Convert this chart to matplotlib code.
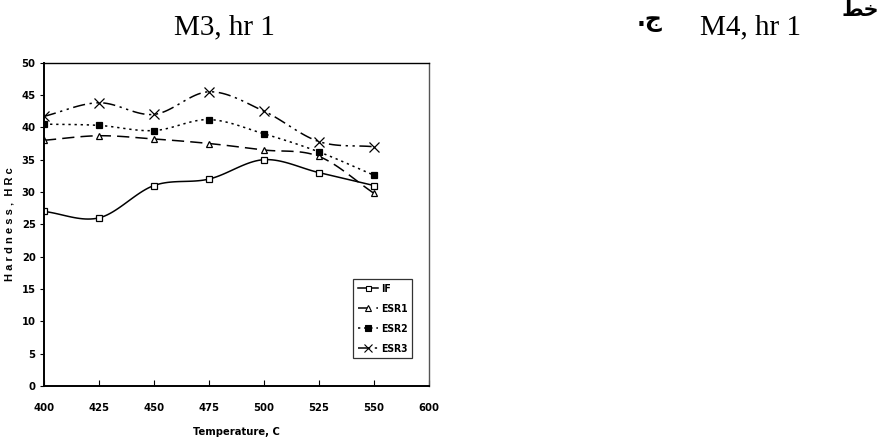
import numpy as np
import matplotlib
matplotlib.use("Agg")
import matplotlib.pyplot as plt

temps = [400, 425, 450, 475, 500, 525, 550]
IF = [27.0, 26.0, 31.0, 32.0, 35.0, 33.0, 31.0]
ESR1 = [38.0, 38.7, 38.2, 37.5, 36.5, 35.5, 29.8]
ESR2 = [40.5, 40.3, 39.5, 41.2, 39.0, 36.2, 32.6]
ESR3 = [41.7, 43.8, 42.0, 45.5, 42.5, 37.8, 37.0]
series_names = ["IF", "ESR1", "ESR2", "ESR3"]
xtick_labels = ["400", "425", "450", "475", "500", "525", "550", "600"]
yticks = [0, 5, 10, 15, 20, 25, 30, 35, 40, 45, 50]

FONT = dict(family="DejaVu Sans", stretch="condensed", weight="bold")


def smooth(x, y, n=20):
    x = np.asarray(x, float); y = np.asarray(y, float)
    P = np.column_stack([x, y])
    P = np.vstack([P[0] - (P[1] - P[0]), P, P[-1] + (P[-1] - P[-2])])
    out = []
    t = np.linspace(0, 1, n, endpoint=False)[:, None]
    for i in range(1, len(P) - 2):
        p0, p1, p2, p3 = P[i - 1], P[i], P[i + 1], P[i + 2]
        c = 0.5 * ((2 * p1) + (-p0 + p2) * t + (2 * p0 - 5 * p1 + 4 * p2 - p3) * t ** 2
                   + (-p0 + 3 * p1 - 3 * p2 + p3) * t ** 3)
        out.append(c)
    out.append(P[-2][None, :])
    c = np.vstack(out)
    return c[:, 0], c[:, 1]


fig = plt.figure(figsize=(8.83, 4.43), dpi=100)
ax = fig.add_axes([0.0498, 0.1287, 0.4360, 0.7298])

# category axis: positions are indices of the tick labels
xpos = [xtick_labels.index(str(t)) for t in temps]

styles = [
    dict(ls="-", marker="s", mfc="white", ms=4.5),
    dict(ls=(0, (8, 4)), marker="^", mfc="white", ms=5),
    dict(ls=(0, (1.5, 2.5)), marker="s", mfc="black", ms=5),
    dict(ls=(0, (8, 3, 1.5, 3, 1.5, 3)), marker="x", mfc="black", ms=6.5),
]
for name, ys, st in zip(series_names, [IF, ESR1, ESR2, ESR3], styles):
    sx, sy = smooth(xpos, ys)
    ax.plot(sx, sy, color="black", lw=1.1, ls=st["ls"])
    ax.plot(xpos, ys, ls="none", marker=st["marker"], mfc=st["mfc"], mec="black",
            ms=st["ms"], mew=0.9, color="black")
    ax.plot([], [], color="black", lw=1.1, ls=st["ls"], marker=st["marker"],
            mfc=st["mfc"], mec="black", ms=st["ms"] * 0.8, mew=0.8, label=name)

ax.set_xlim(0, len(xtick_labels) - 1)
ax.set_ylim(0, 50)
ax.set_xticks(range(len(xtick_labels)))
ax.set_xticklabels(xtick_labels)
ax.set_yticks(yticks)
ax.tick_params(axis="x", direction="in", length=4, pad=12)
ax.tick_params(axis="y", direction="out", length=3, pad=3)
for lab in ax.get_xticklabels() + ax.get_yticklabels():
    lab.set_fontfamily(FONT["family"])
    lab.set_fontstretch(FONT["stretch"])
    lab.set_fontweight("bold")
    lab.set_fontsize(8)
for s in ["left", "bottom"]:
    ax.spines[s].set_linewidth(1.4)
for s in ["top", "right"]:
    ax.spines[s].set_linewidth(1.0)
ax.spines["right"].set_color("#555555")

ax.set_xlabel("Temperature, C", fontsize=8, labelpad=10, **FONT)
ax.set_ylabel("H a r d n e s s ,  H R c", fontfamily="Liberation Sans", fontweight="bold",
              fontsize=8, labelpad=5)

leg = ax.legend(loc="upper left", bbox_to_anchor=(0.803, 0.33), frameon=True, fancybox=False,
                edgecolor="black", handlelength=1.9, handletextpad=0.3, borderpad=0.45,
                borderaxespad=0, labelspacing=0.95,
                prop=dict(family="DejaVu Sans", stretch="condensed", weight="bold", size=7.5))
leg.get_frame().set_linewidth(0.9)

fig.text(224 / 883, 1 - 27 / 443, "M3, hr 1", fontfamily="Liberation Serif", fontsize=21,
         ha="center", va="center")
fig.text(751 / 883, 1 - 27 / 443, "M4, hr 1", fontfamily="Liberation Serif", fontsize=21,
         ha="center", va="center")
fig.text(650 / 883, 1 - 20 / 443, ".\u062C", fontfamily="DejaVu Sans", fontsize=17,
         fontweight="bold", ha="center", va="center")
fig.text(860 / 883, 1 - 10 / 443, "\uFEC2\uFEA7", fontfamily="DejaVu Sans", fontsize=15,
         fontweight="bold", ha="center", va="center")

fig.savefig("out.png", dpi=100)
